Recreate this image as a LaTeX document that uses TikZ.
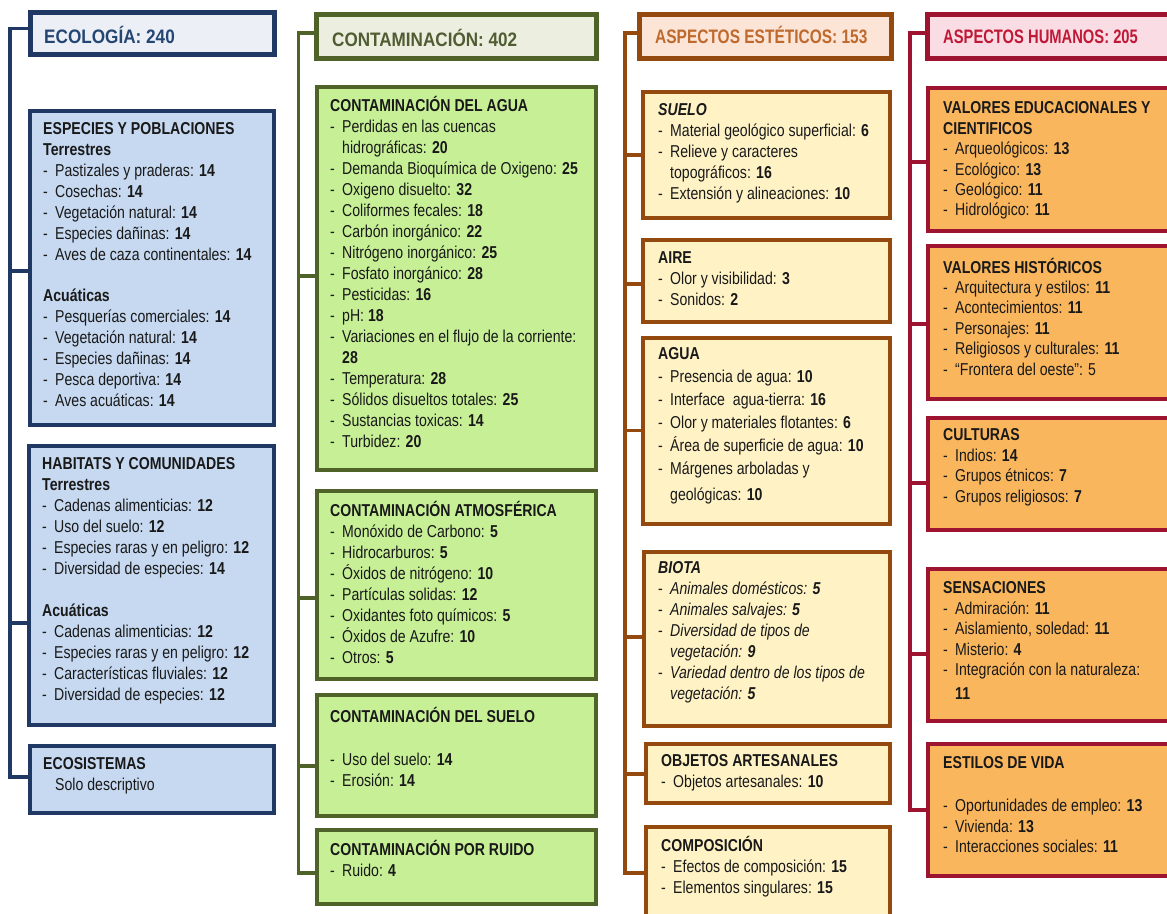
\documentclass[tikz,border=0pt]{standalone}
\usepackage{fontspec}
\usepackage{graphicx}
\setmainfont{Liberation Sans}
\newfontfamily\narrowsf[FakeStretch=0.82]{Liberation Sans}
\usetikzlibrary{calc}

% palette
\definecolor{ecoline}{RGB}{31,56,100}
\definecolor{ecofill}{RGB}{198,217,241}
\definecolor{ecohfill}{RGB}{236,240,246}
\definecolor{ecotext}{RGB}{36,70,115}
\definecolor{conline}{RGB}{79,98,40}
\definecolor{confill}{RGB}{199,240,150}
\definecolor{conhfill}{RGB}{236,239,223}
\definecolor{context}{RGB}{80,92,50}
\definecolor{estline}{RGB}{148,74,14}
\definecolor{estfill}{RGB}{255,243,198}
\definecolor{esthfill}{RGB}{252,229,214}
\definecolor{esttext}{RGB}{190,105,45}
\definecolor{humline}{RGB}{158,20,48}
\definecolor{humfill}{RGB}{250,182,92}
\definecolor{humhfill}{RGB}{250,221,228}
\definecolor{humtext}{RGB}{192,25,55}
\definecolor{ink}{RGB}{25,25,25}

% list helpers
\newcommand\itm[1]{\makebox[12pt][l]{-}#1}
\newcommand\itmc[1]{\hspace*{12pt}#1}
\newcommand\bn[1]{\textbf{#1}}

% box from left/top/right/bottom edges
\newcommand\panel[6]{%
  \pgfmathsetmacro\bxw{#5-#3}\pgfmathsetmacro\bxh{#6-#4}%
  \node[#1, minimum width=\bxw pt, minimum height=\bxh pt] (#2) at ({(#3+#5)/2},{(#4+#6)/2}) {};}

\begin{document}
\begin{tikzpicture}[x=1pt,y=-1pt,
  panelbase/.style={draw, rectangle, inner sep=0pt},
  ecohead/.style={panelbase, draw=ecoline, fill=ecohfill, line width=5pt},
  conhead/.style={panelbase, draw=conline, fill=conhfill, line width=5pt},
  esthead/.style={panelbase, draw=estline, fill=esthfill, line width=5pt},
  humhead/.style={panelbase, draw=humline, fill=humhfill, line width=5pt},
  eco/.style={panelbase, draw=ecoline, fill=ecofill, line width=4pt},
  con/.style={panelbase, draw=conline, fill=confill, line width=4pt},
  est/.style={panelbase, draw=estline, fill=estfill, line width=4pt},
  hum/.style={panelbase, draw=humline, fill=humfill, line width=4pt},
  ecospine/.style={draw=ecoline, line width=3.6pt},
  conspine/.style={draw=conline, line width=3.6pt},
  estspine/.style={draw=estline, line width=3.6pt},
  humspine/.style={draw=humline, line width=3.6pt},
  hdr/.style={anchor=base west, inner sep=0pt, font=\fontsize{19.5}{23}\selectfont\bfseries},
  body/.style={anchor=north west, inner sep=0pt, align=left, text=ink,
    font=\narrowsf\fontsize{17.2}{21}\selectfont, execute at begin node=\strut},
  bodytall/.style={body, font=\narrowsf\fontsize{17.2}{23}\selectfont},
  bodytight/.style={body, font=\narrowsf\fontsize{17.2}{20.4}\selectfont}
]
\path[use as bounding box, clip] (0,0) rectangle (1167,913);
\fill[white] (0,0) rectangle (1167,913);

% ---------- headers ----------
\panel{ecohead}{H1}{30}{12}{274.5}{54}
\panel{conhead}{H2}{316}{14.5}{596}{58}
\panel{esthead}{H3}{639}{14}{891}{58}
\panel{humhead}{H4}{927}{14}{1190}{58}
\node[hdr, text=ecotext] (H1t) at (44,43) {\scalebox{0.88}[1]{ECOLOGÍA: 240}};
\node[hdr, text=context] (H2t) at (332,46) {\scalebox{0.877}[1]{CONTAMINACIÓN: 402}};
\node[hdr, text=esttext] (H3t) at (655,43) {\scalebox{0.794}[1]{ASPECTOS ESTÉTICOS: 153}};
\node[hdr, text=humtext] (H4t) at (943,43) {\scalebox{0.756}[1]{ASPECTOS HUMANOS: 205}};

% ---------- boxes ----------
\panel{eco}{E1}{30}{111}{274}{424.5}
\panel{eco}{E2}{28.5}{446}{274}{725}
\panel{eco}{E3}{30}{746}{274}{813}
\panel{con}{C1}{316.5}{87}{595.5}{470}
\panel{con}{C2}{316.5}{491}{595.5}{679}
\panel{con}{C3}{316.5}{695}{595.5}{816}
\panel{con}{C4}{316.5}{830}{595.5}{904}
\panel{est}{A1}{643}{91.5}{890}{217.5}
\panel{est}{A2}{643}{239.5}{890}{322}
\panel{est}{A3}{643}{337.5}{890}{524}
\panel{est}{A4}{644}{551.5}{890}{726}
\panel{est}{A5}{646}{744}{890}{803}
\panel{est}{A6}{646}{827}{890}{940}
\panel{hum}{U1}{928}{88}{1190}{231}
\panel{hum}{U2}{928}{246}{1190}{399}
\panel{hum}{U3}{928}{418}{1190}{530}
\panel{hum}{U4}{928}{569}{1190}{721}
\panel{hum}{U5}{928}{744}{1190}{876}

% ---------- spines ----------
\coordinate (k1t) at (10,28.5); \coordinate (k1b) at (10,777);
\coordinate (k1a) at (10,270.7); \coordinate (k1c) at (10,623);
\draw[ecospine] (H1.west |- k1t) -- (k1t) -- (k1b) -- (E3.west |- k1b);
\draw[ecospine] (k1a) -- (E1.west |- k1a);
\draw[ecospine] (k1c) -- (E2.west |- k1c);

\coordinate (k2t) at (298.3,33); \coordinate (k2b) at (298.3,873);
\coordinate (k2a) at (298.3,276); \coordinate (k2c) at (298.3,598);
\coordinate (k2d) at (298.3,766);
\draw[conspine] (H2.west |- k2t) -- (k2t) -- (k2b) -- (C4.west |- k2b);
\draw[conspine] (k2a) -- (C1.west |- k2a);
\draw[conspine] (k2c) -- (C2.west |- k2c);
\draw[conspine] (k2d) -- (C3.west |- k2d);

\coordinate (k3t) at (625,33); \coordinate (k3b) at (625,873);
\coordinate (k3a) at (625,155); \coordinate (k3c) at (625,284);
\coordinate (k3d) at (625,430.5); \coordinate (k3e) at (625,637);
\coordinate (k3f) at (625,774);
\draw[estspine] (H3.west |- k3t) -- (k3t) -- (k3b) -- (A6.west |- k3b);
\draw[estspine] (k3a) -- (A1.west |- k3a);
\draw[estspine] (k3c) -- (A2.west |- k3c);
\draw[estspine] (k3d) -- (A3.west |- k3d);
\draw[estspine] (k3e) -- (A4.west |- k3e);
\draw[estspine] (k3f) -- (A5.west |- k3f);

\coordinate (k4t) at (910,33); \coordinate (k4b) at (910,810);
\coordinate (k4a) at (910,162); \coordinate (k4c) at (910,324);
\coordinate (k4d) at (910,483); \coordinate (k4e) at (910,654);
\draw[humspine] (H4.west |- k4t) -- (k4t) -- (k4b) -- (U5.west |- k4b);
\draw[humspine] (k4a) -- (U1.west |- k4a);
\draw[humspine] (k4c) -- (U2.west |- k4c);
\draw[humspine] (k4d) -- (U3.west |- k4d);
\draw[humspine] (k4e) -- (U4.west |- k4e);

% ---------- ecología ----------
\node[body] (E1t) at (43,122.3) {\textbf{ESPECIES Y POBLACIONES}\\
\textbf{Terrestres}\\
\itm{Pastizales y praderas: \bn{14}}\\
\itm{Cosechas: \bn{14}}\\
\itm{Vegetación natural: \bn{14}}\\
\itm{Especies dañinas: \bn{14}}\\
\itm{Aves de caza continentales: \bn{14}}\\[20pt]
\textbf{Acuáticas}\\
\itm{Pesquerías comerciales: \bn{14}}\\
\itm{Vegetación natural: \bn{14}}\\
\itm{Especies dañinas: \bn{14}}\\
\itm{Pesca deportiva: \bn{14}}\\
\itm{Aves acuáticas: \bn{14}}};

\node[body] (E2t) at (42,457.3) {\textbf{HABITATS Y COMUNIDADES}\\
\textbf{Terrestres}\\
\itm{Cadenas alimenticias: \bn{12}}\\
\itm{Uso del suelo: \bn{12}}\\
\itm{Especies raras y en peligro: \bn{12}}\\
\itm{Diversidad de especies: \bn{14}}\\[21pt]
\textbf{Acuáticas}\\
\itm{Cadenas alimenticias: \bn{12}}\\
\itm{Especies raras y en peligro: \bn{12}}\\
\itm{Características fluviales: \bn{12}}\\
\itm{Diversidad de especies: \bn{12}}};

\node[body] (E3t) at (43,757.3) {\textbf{ECOSISTEMAS}\\
\itmc{Solo descriptivo}};

% ---------- contaminación ----------
\node[body] (C1t) at (330,96.3) {\textbf{CONTAMINACIÓN DEL AGUA}\\
\itm{Perdidas en las cuencas}\\
\itmc{hidrográficas: \bn{20}}\\
\itm{Demanda Bioquímica de Oxigeno: \bn{25}}\\
\itm{Oxigeno disuelto: \bn{32}}\\
\itm{Coliformes fecales: \bn{18}}\\
\itm{Carbón inorgánico: \bn{22}}\\
\itm{Nitrógeno inorgánico: \bn{25}}\\
\itm{Fosfato inorgánico: \bn{28}}\\
\itm{Pesticidas: \bn{16}}\\
\itm{pH: \bn{18}}\\
\itm{Variaciones en el flujo de la corriente:}\\
\itmc{\bn{28}}\\
\itm{Temperatura: \bn{28}}\\
\itm{Sólidos disueltos totales: \bn{25}}\\
\itm{Sustancias toxicas: \bn{14}}\\
\itm{Turbidez: \bn{20}}};

\node[body] (C2t) at (330,501.3) {\textbf{CONTAMINACIÓN ATMOSFÉRICA}\\
\itm{Monóxido de Carbono: \bn{5}}\\
\itm{Hidrocarburos: \bn{5}}\\
\itm{Óxidos de nitrógeno: \bn{10}}\\
\itm{Partículas solidas: \bn{12}}\\
\itm{Oxidantes foto químicos: \bn{5}}\\
\itm{Óxidos de Azufre: \bn{10}}\\
\itm{Otros: \bn{5}}};

\node[body] (C3t) at (330,707.3) {\textbf{CONTAMINACIÓN DEL SUELO}\\[22pt]
\itm{Uso del suelo: \bn{14}}\\
\itm{Erosión: \bn{14}}};

\node[body] (C4t) at (330,840.3) {\textbf{CONTAMINACIÓN POR RUIDO}\\
\itm{Ruido: \bn{4}}};

% ---------- aspectos estéticos ----------
\node[body] (A1t) at (658,103.3) {\textbf{\textit{SUELO}}\\
\itm{Material geológico superficial: \bn{6}}\\
\itm{Relieve y caracteres}\\
\itmc{topográficos: \bn{16}}\\
\itm{Extensión y alineaciones: \bn{10}}};

\node[body] (A2t) at (658,251.3) {\textbf{AIRE}\\
\itm{Olor y visibilidad: \bn{3}}\\
\itm{Sonidos: \bn{2}}};

\node[bodytall] (A3t) at (658,346.9) {\textbf{AGUA}\\
\itm{Presencia de agua: \bn{10}}\\
\itm{Interface\ \ agua-tierra: \bn{16}}\\
\itm{Olor y materiales flotantes: \bn{6}}\\
\itm{Área de superficie de agua: \bn{10}}\\
\itm{Márgenes arboladas y}\\[3pt]
\itmc{geológicas: \bn{10}}};

\node[body] (A4t) at (658,561.3) {\textbf{\textit{BIOTA}}\\
\itm{\textit{Animales domésticos: \bn{5}}}\\
\itm{\textit{Animales salvajes: \bn{5}}}\\
\itm{\textit{Diversidad de tipos de}}\\
\itmc{\textit{vegetación: \bn{9}}}\\
\itm{\textit{Variedad dentro de los tipos de}}\\
\itmc{\textit{vegetación: \bn{5}}}};

\node[body] (A5t) at (661,754.3) {\textbf{OBJETOS ARTESANALES}\\
\itm{Objetos artesanales: \bn{10}}};

\node[body] (A6t) at (661,836.3) {\textbf{COMPOSICIÓN}\\
\itm{Efectos de composición: \bn{15}}\\
\itm{Elementos singulares: \bn{15}}};

% ---------- aspectos humanos ----------
\node[bodytight] (U1t) at (943,101.7) {\textbf{VALORES EDUCACIONALES Y}\\
\textbf{CIENTIFICOS}\\
\itm{Arqueológicos: \bn{13}}\\
\itm{Ecológico: \bn{13}}\\
\itm{Geológico: \bn{11}}\\
\itm{Hidrológico: \bn{11}}};

\node[bodytight] (U2t) at (943,257.7) {\textbf{VALORES HISTÓRICOS}\\
\itm{Arquitectura y estilos: \bn{11}}\\
\itm{Acontecimientos: \bn{11}}\\
\itm{Personajes: \bn{11}}\\
\itm{Religiosos y culturales: \bn{11}}\\
\itm{“Frontera del oeste”: 5}};

\node[bodytight] (U3t) at (943,428.7) {\textbf{CULTURAS}\\
\itm{Indios: \bn{14}}\\
\itm{Grupos étnicos: \bn{7}}\\
\itm{Grupos religiosos: \bn{7}}};

\node[bodytight] (U4t) at (943,581.7) {\textbf{SENSACIONES}\\
\itm{Admiración: \bn{11}}\\
\itm{Aislamiento, soledad: \bn{11}}\\
\itm{Misterio: \bn{4}}\\
\itm{Integración con la naturaleza:}\\[4pt]
\itmc{\bn{11}}};

\node[bodytight] (U5t) at (943,756.7) {\textbf{ESTILOS DE VIDA}\\[22.6pt]
\itm{Oportunidades de empleo: \bn{13}}\\
\itm{Vivienda: \bn{13}}\\
\itm{Interacciones sociales: \bn{11}}};
\end{tikzpicture}
\end{document}
